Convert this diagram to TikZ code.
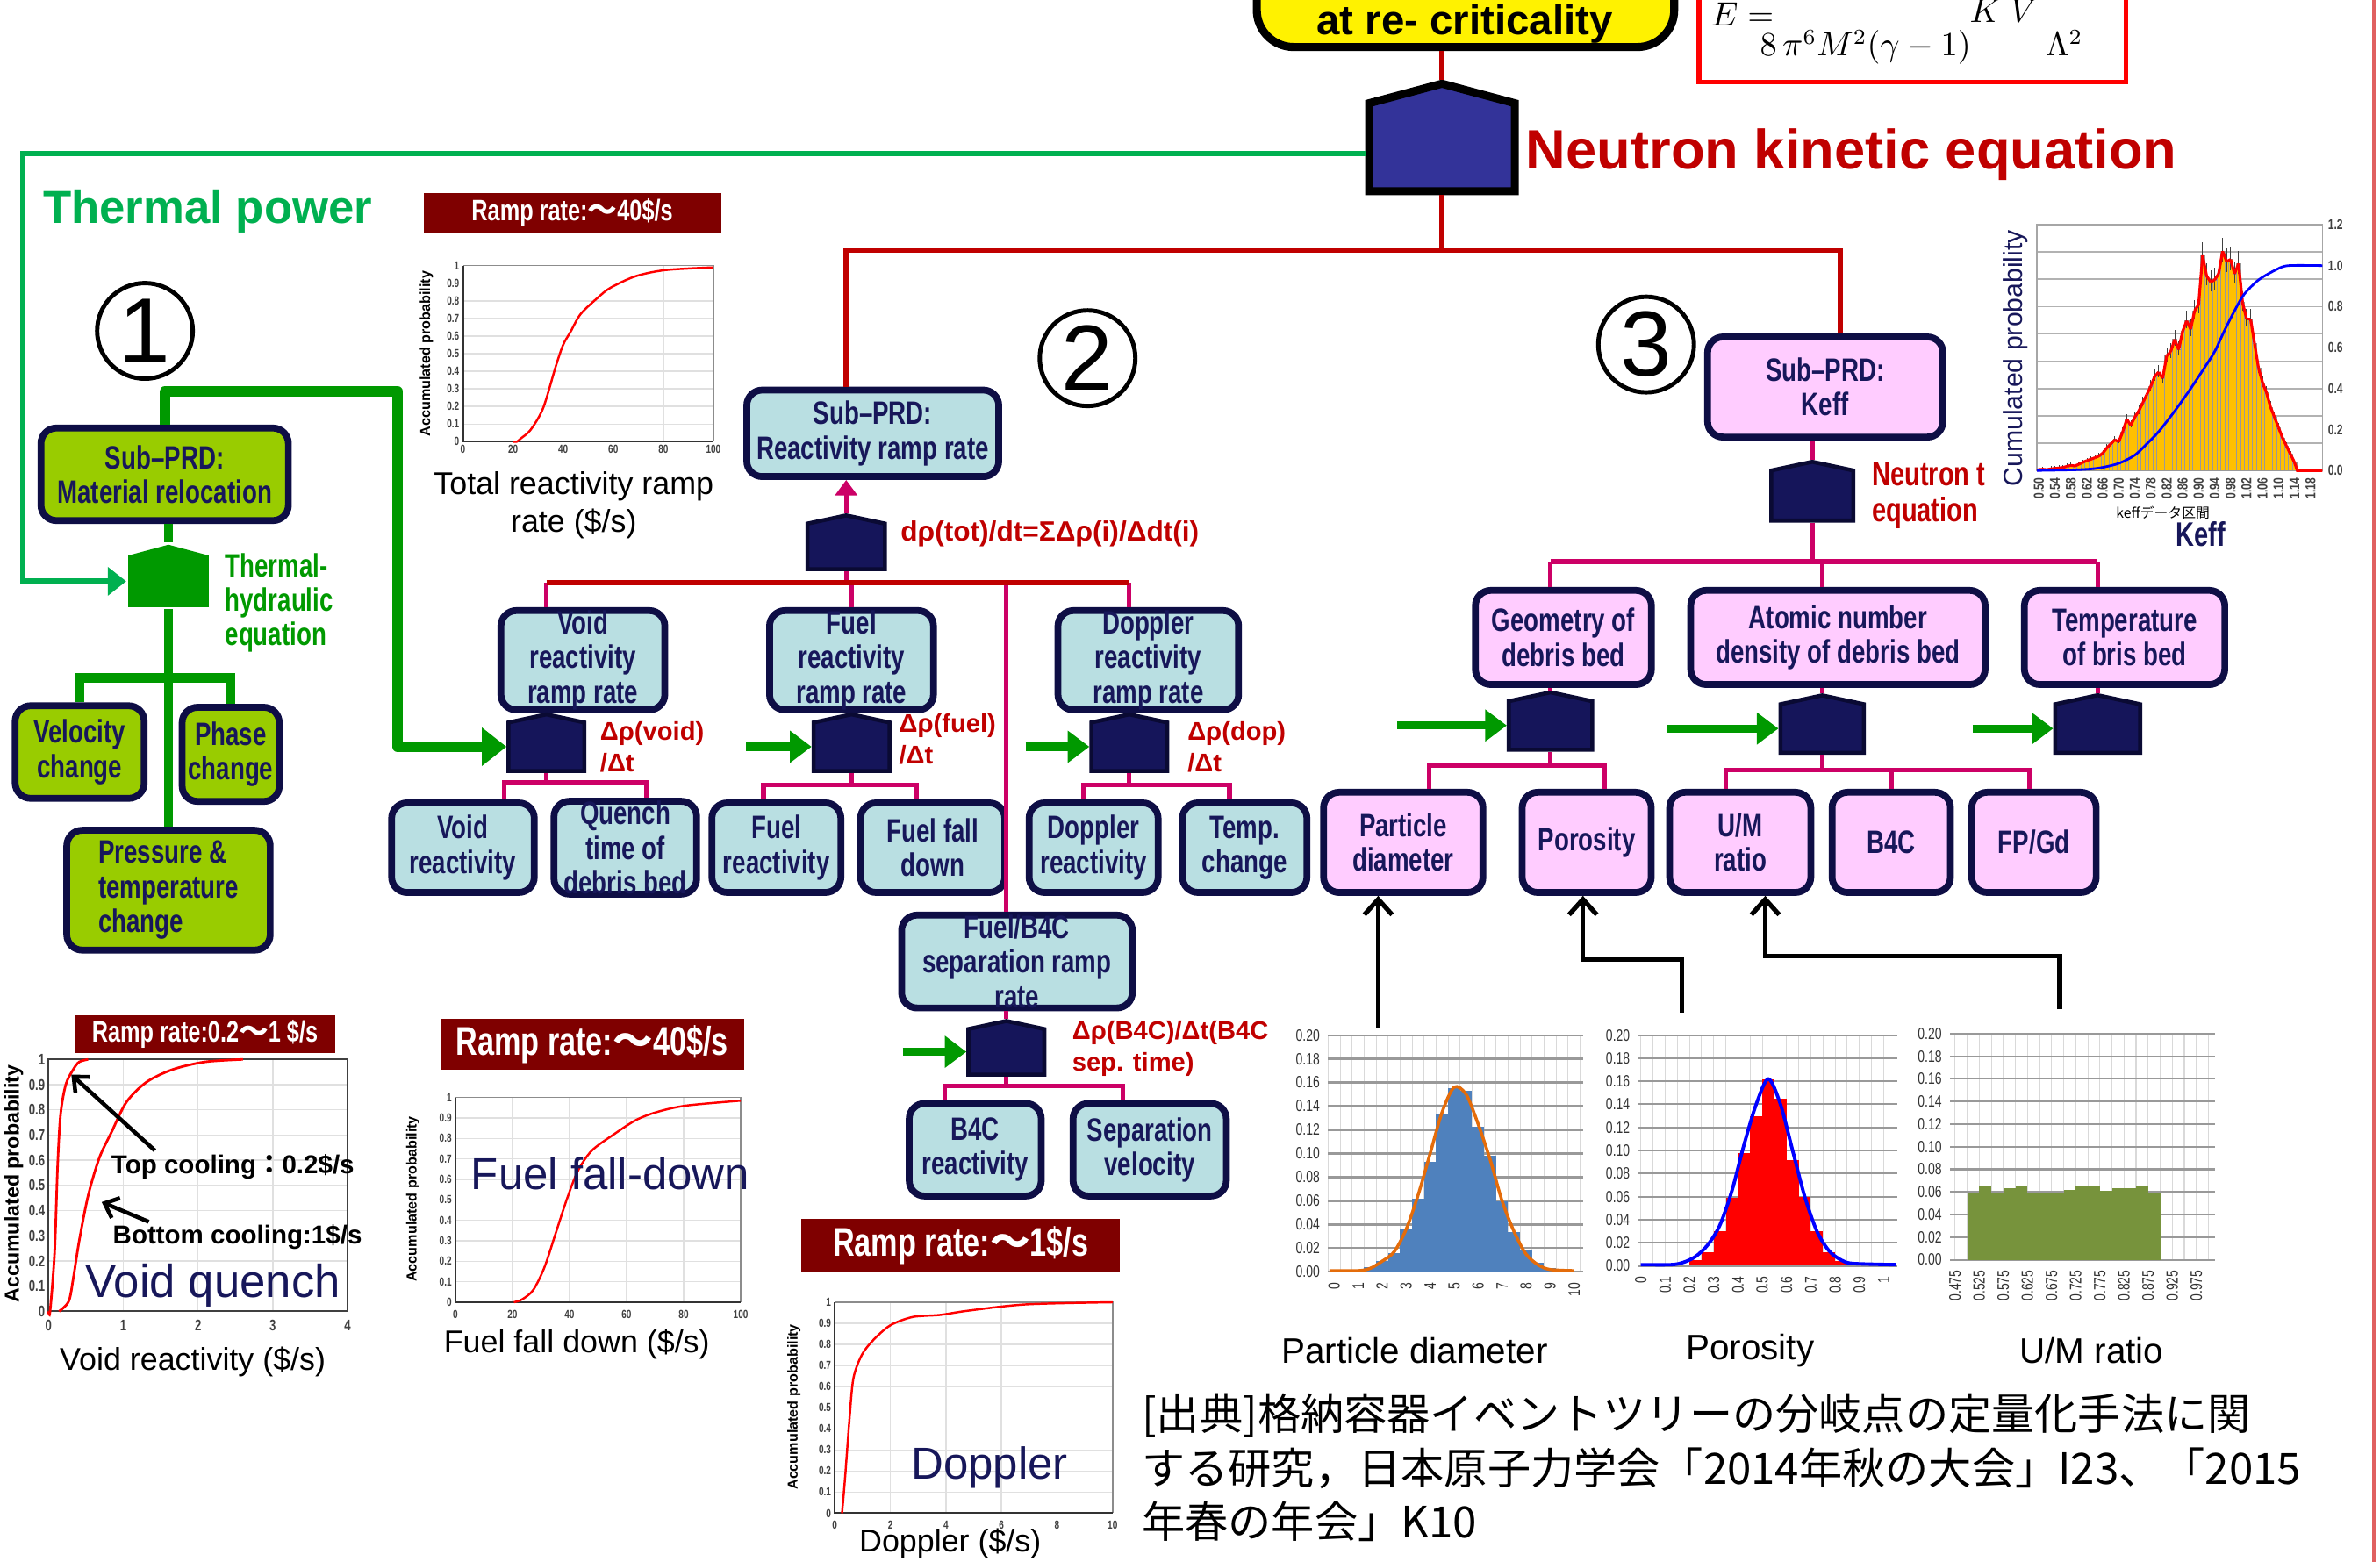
\documentclass[tikz,border=0pt]{standalone}
\usepackage[no-math]{fontspec}
\setmainfont{Liberation Sans}
\newfontfamily\condfont[FakeStretch=0.75]{Liberation Sans}
\newfontfamily\cjkfont{Noto Sans CJK JP}
\usepackage{xcolor}
\usepackage{tikz}
\usetikzlibrary{arrows.meta,positioning,shapes.symbols,calc}
\newcommand{\px}{0.17296mm}
\definecolor{etNavy}{HTML}{0E0E45}
\definecolor{etInk}{HTML}{17175A}
\definecolor{etGate}{HTML}{15155A}
\definecolor{etGateEdge}{HTML}{0A0A33}
\definecolor{etGateNK}{HTML}{333399}
\definecolor{etRed}{HTML}{C00000}
\definecolor{etPink}{HTML}{CC0066}
\definecolor{etGreen}{HTML}{009900}
\definecolor{etThermal}{HTML}{00B050}
\definecolor{etLime}{HTML}{99CC00}
\definecolor{etTeal}{HTML}{B9DFE2}
\definecolor{etLilac}{HTML}{FFCCFF}
\definecolor{etMaroon}{HTML}{7F0000}
\definecolor{etAmber}{HTML}{FFC000}
\definecolor{etSteel}{HTML}{4F81BD}
\definecolor{etOlive}{HTML}{77933C}
\definecolor{etCurve}{HTML}{E46C0A}
\definecolor{etEdge}{HTML}{E06060}

\begin{document}
\begin{tikzpicture}[
    x=0.17296mm, y=-0.17296mm,
    box/.style={rectangle, draw=etNavy, line width=2.2pt, rounded corners=5pt, inner sep=0pt, align=center, text=etInk, font=\condfont\bfseries\fontsize{10.5}{11.2}\selectfont},
    wh/.style 2 args={minimum width={(#1-4)*\px}, minimum height={(#2-4)*\px}},
    sz/.style 2 args={minimum width={#1*\px}, minimum height={#2*\px}},
    limebox/.style={box, fill=etLime},
    tealbox/.style={box, fill=etTeal},
    lilacbox/.style={box, fill=etLilac},
    gate/.style={shape=signal, signal to=north, signal pointer angle=156, fill=etGate, draw=etGateEdge, line width=1.3pt, inner sep=0pt},
    link/.style={etPink, line width=1.5pt},
    trunk/.style={etRed, line width=1.6pt},
    feed/.style={etGreen, line width=2.6pt, -{Triangle[length=7pt,width=10pt]}},
    eqlabel/.style={text=etRed, font=\bfseries\fontsize{8.3}{10.2}\selectfont, align=left, anchor=west, inner sep=0pt},
    ramp/.style={fill=etMaroon, text=white, inner sep=0pt, font=\condfont\bfseries\fontsize{9.6}{11}\selectfont},
    axtick/.style={font=\condfont\bfseries\fontsize{3.8}{4}\selectfont, inner sep=1pt, text=black!75},
    histtick/.style={font=\condfont\fontsize{5.3}{6}\selectfont, inner sep=1pt, text=black!80},
    ytitle/.style={rotate=90, font=\bfseries\fontsize{4.6}{5}\selectfont, inner sep=0pt},
    cdf/.style={red, line width=0.7pt},
    gridc/.style={black!12, line width=0.4pt},
    caption/.style={font=\fontsize{10.2}{12.3}\selectfont, align=center, inner sep=0pt},
    bigtag/.style={text=etInk, font=\fontsize{14.5}{16}\selectfont, inner sep=0pt, anchor=west},
    numcirc/.style={circle, draw, line width=1.4pt, minimum size=63*\px, inner sep=0pt, font=\fontsize{30}{30}\selectfont},
    hint/.style={black, line width=1.5pt, -{Straight Barb[length=5pt,width=9pt]}}
]
\useasboundingbox (0,0) rectangle (1568,1029);
\fill[white] (0,0) rectangle (1568,1029);
\clip (0,0) rectangle (1568,1029);

% Top event and kinetics
\node[box, draw=black, line width=2.6pt, fill=yellow, rounded corners=12pt, wh={279}{110}] (crit) at (965.5,-22) {};
\node[font=\bfseries\fontsize{13.5}{14}\selectfont, anchor=base, inner sep=0pt] (crittxt) at (965,23) {at re- criticality};
\node[draw=red, line width=1.6pt, fill=white, sz={281}{120}, inner sep=0pt] (bethe) at (1260,-6) {};
\node[anchor=base, inner sep=0pt, font=\fontsize{10.5}{12}\selectfont] (betheE) at (1148,17) {$E=$};
\node[anchor=base, inner sep=0pt, font=\fontsize{10.5}{12}\selectfont] (betheden) at (1229,37) {$8\,\pi^{6}M^{2}(\gamma-1)$};
\node[anchor=base, inner sep=0pt, font=\fontsize{10.5}{12}\selectfont] (betheKV) at (1320,15) {$K\;V$};
\node[anchor=base, inner sep=0pt, font=\fontsize{10.5}{12}\selectfont] (bethelam) at (1360,37) {$\Lambda^{2}$};
\node[gate, fill=etGateNK, draw=black, line width=2.6pt, signal pointer angle=150, wh={100}{62}] (nkgate) at (950,97) {};
\node[anchor=west, text=etRed, font=\bfseries\fontsize{18}{20}\selectfont, inner sep=0pt] (nklabel) at (1005,102) {Neutron kinetic equation};
\node[anchor=west, text=etThermal, font=\bfseries\fontsize{15}{16}\selectfont, inner sep=0pt] (tplabel) at (28,139) {Thermal power};

% (1) Material relocation
\node[numcirc] (circ1) at (95.5,218) {1};
\node[limebox, wh={167}{65}] (reloc) at (108.5,312.5) {Sub–PRD:\\Material relocation};
\node[gate, fill=etGreen, draw=none, signal pointer angle=150, sz={53}{34}] (thgate) at (111,383) {};
\node[eqlabel, text=etGreen, font=\condfont\bfseries\fontsize{10.5}{11.1}\selectfont] (thlabel) at (148,397) {Thermal-\\hydraulic\\equation};
\node[limebox, wh={89}{65}] (velo) at (52.5,495.5) {Velocity\\change};
\node[limebox, wh={68}{66}] (phase) at (152,497) {Phase\\change};
\node[limebox, wh={138}{83}, align=left] (press) at (111,586.5) {Pressure \&\\temperature\\change};

% (2) Reactivity ramp rate
\node[numcirc] (circ2) at (716.5,236) {2};
\node[tealbox, wh={170}{61}] (rrbox) at (575,285.5) {Sub–PRD:\\Reactivity ramp rate};
\node[gate, wh={55}{34}] (rrgate) at (557.5,360) {};
\node[eqlabel, font=\bfseries\fontsize{9}{10}\selectfont] (rrlabel) at (593,352) {dρ(tot)/dt=ΣΔρ(i)/Δdt(i)};
\node[tealbox, wh={112}{64}] (voidrr) at (384,435) {Void\\reactivity\\ramp rate};
\node[tealbox, wh={112}{64}] (fuelrr) at (561,435) {Fuel\\reactivity\\ramp rate};
\node[tealbox, wh={123}{64}] (doprr) at (756.5,435) {Doppler\\reactivity\\ramp rate};
\node[gate, wh={54}{36}] (voidgate) at (360,492) {};
\node[gate, wh={54}{36}] (fuelgate) at (561,492) {};
\node[gate, wh={54}{36}] (dopgate) at (744,492) {};
\node[eqlabel] (voidlbl) at (395,492) {Δρ(void)\\/Δt};
\node[eqlabel] (fuellbl) at (592,487) {Δρ(fuel)\\/Δt};
\node[eqlabel] (doplbl) at (782,492) {Δρ(dop)\\/Δt};
\node[tealbox, wh={98}{63}] (voidre) at (305,558.5) {Void\\reactivity};
\node[tealbox, wh={98}{63}, right=1.47mm of voidre] (quench) {Quench\\time of\\debris bed};
\node[tealbox, wh={89}{63}] (fuelre) at (511.5,558.5) {Fuel\\reactivity};
\node[tealbox, wh={99}{63}, right=1.47mm of fuelre] (falldown) {Fuel fall\\down};
\node[tealbox, wh={89}{63}] (dopre) at (720.5,558.5) {Doppler\\reactivity};
\node[tealbox, wh={86}{63}, right=2mm of dopre] (tempch) {Temp.\\change};
\node[tealbox, wh={156}{63}] (sepbox) at (670,633.5) {Fuel/B4C\\separation ramp\\rate};
\node[gate, wh={54}{34}] (sepgate) at (663,693) {};
\node[eqlabel] (seplbl) at (706,691) {Δρ(B4C)/Δt(B4C\\sep. time)};
\node[tealbox, wh={91}{65}] (b4cre) at (642.5,757.5) {B4C\\reactivity};
\node[tealbox, wh={105}{65}, right=2.85mm of b4cre] (sepvel) {Separation\\velocity};

% (3) Keff
\node[numcirc] (circ3) at (1084.5,227) {3};
\node[lilacbox, wh={159}{70}] (kbox) at (1202.5,255) {Sub–PRD:\\Keff};
\node[gate, wh={58}{37}] (kgate) at (1194,326.5) {};
\node[eqlabel, font=\condfont\bfseries\fontsize{11}{11.4}\selectfont] (kgatelbl) at (1233,326.5) {Neutron t\\equation};
\node[lilacbox, wh={120}{66}] (geo) at (1030,420) {Geometry of\\debris bed};
\node[lilacbox, wh={198}{66}, right=3.7mm of geo] (atom) {Atomic number\\density of debris bed};
\node[lilacbox, wh={136}{66}, right=3.7mm of atom] (tempbed) {Temperature\\of bris bed};
\node[gate, wh={59}{36}] (geogate) at (1021.5,478) {};
\node[gate, wh={59}{36}] (atomgate) at (1200.5,480) {};
\node[gate, wh={60}{36}] (tempgate) at (1382,480) {};
\node[lilacbox, wh={109}{70}] (pdia) at (924.5,555) {Particle\\diameter};
\node[lilacbox, wh={89}{70}, right=3.7mm of pdia] (poro) {Porosity};
\node[lilacbox, wh={97}{70}] (umr) at (1146.5,555) {U/M\\ratio};
\node[lilacbox, wh={82}{70}, right=1.65mm of umr] (b4c) {B4C};
\node[lilacbox, wh={86}{70}, right=1.65mm of b4c] (fpgd) {FP/Gd};

% Connectors
\coordinate (nkfork) at (950,165);
\coordinate (rbus) at (0,384);
\coordinate (kbus) at (0,370);
\coordinate (tpbend) at (15,383);
\draw[trunk] (nkgate.north |- crit.south) -- (nkgate.north);
\draw[trunk] (nkgate.south) -- (nkfork);
\draw[trunk] (nkfork) -| (rrgate.north |- rrbox.north);
\draw[trunk] (nkfork) -| ([xshift=10*\px]kbox.north);
\draw[etThermal, line width=1.8pt, -{Triangle[length=6pt,width=9pt]}] ([yshift=-4*\px]nkgate.west) -| (tpbend) -- (thgate.west);
\draw[etGreen, line width=3.4pt, line join=round, -{Triangle[length=8pt,width=12pt]}] (reloc.north) |- (262,258) |- (voidgate.west);
\draw[etGreen, line width=3pt] (thgate.north |- reloc.south) -- (thgate.north);
\draw[etGreen, line width=3pt] (thgate.south) -- (press.north);
\draw[etGreen, line width=3pt] (velo.north) -- ++(0,-16) -| (phase.north);

\draw[link, -{Triangle[length=5pt,width=7pt]}] (rrgate.north) -- (rrgate.north |- rrbox.south);
\draw[link] (rrgate.south) -- (rrgate.south |- rbus);
\foreach \g/\b in {voidgate/voidrr, fuelgate/fuelrr, dopgate/doprr, sepgate/sepbox} {
  \draw[link] (\g.north |- rbus) -- (\g.north |- \b.north);
  \draw[link] (\g.north |- \b.south) -- (\g.north);
}
\draw[trunk] (voidgate.north |- rbus) -- (dopgate.north |- rbus);
\draw[link] (voidgate.south) -- ++(0,6) coordinate (voidfork);
\draw[link] ([xshift=27*\px]voidre.north) |- (voidfork) -| ([xshift=14*\px]quench.north);
\draw[link] (fuelgate.south) -- ++(0,8) coordinate (fuelfork);
\draw[link] ([xshift=-8.5*\px]fuelre.north) |- (fuelfork) -| ([xshift=-10.5*\px]falldown.north);
\draw[link] (dopgate.south) -- ++(0,8) coordinate (dopfork);
\draw[link] ([xshift=-6.5*\px]dopre.north) |- (dopfork) -| ([xshift=-10*\px]tempch.north);
\draw[link] (sepgate.south) -- ++(0,6) coordinate (sepfork);
\draw[link] ([xshift=-20*\px]b4cre.north) |- (sepfork) -| ([xshift=-17.5*\px]sepvel.north);

\draw[link] (kgate.north |- kbox.south) -- (kgate.north);
\draw[link] (kgate.south) -- (kgate.south |- kbus);
\draw[link] (geogate.north |- kbus) -- (tempgate.north |- kbus);
\foreach \g/\b in {geogate/geo, atomgate/atom, tempgate/tempbed} {
  \draw[link] (\g.north |- kbus) -- (\g.north |- \b.north);
  \draw[link] (\g.north |- \b.south) -- (\g.north);
}
\draw[link] (geogate.south) -- ++(0,9) coordinate (geofork);
\draw[link] ([xshift=17*\px]pdia.north) |- (geofork) -| ([xshift=11.5*\px]poro.north);
\draw[link] (atomgate.south) -- ++(0,10) coordinate (atomfork);
\draw[link] ([xshift=-9.5*\px]umr.north) |- (atomfork) -| ([xshift=-3*\px]fpgd.north);
\draw[link] (b4c.north) -- (b4c.north |- atomfork);

\foreach \g/\len in {fuelgate/43, dopgate/42, sepgate/42, geogate/72, atomgate/73, tempgate/53}
  \draw[feed] ([xshift=-\len*\px]\g.west) -- (\g.west);

% Input distributions
\coordinate (pdsrc) at (908,677);
\coordinate (porsrc) at (1108,667);
\coordinate (umsrc) at (1357,665);
\draw[hint] (pdsrc) -- (pdsrc |- pdia.south);
\draw[hint] (porsrc) -- ++(0,-35) -| ([xshift=-2.5*\px]poro.south);
\draw[hint] (umsrc) -- ++(0,-35) -| ([xshift=16.5*\px]umr.south);

% Total reactivity ramp rate chart
\node[ramp, sz={196}{26}] (ramptot) at (377,140) {Ramp rate:{\cjkfont ～}40\$/s};
\begin{scope}[shift={(305,291)}, xscale=1.65, yscale=-116]
  \foreach \g in {20,40,60,80} \draw[gridc] (\g,0) -- (\g,1);
  \foreach \g in {0.1,0.2,...,0.9} \draw[gridc] (0,\g) -- (100,\g);
  \draw[black!45, line width=0.4pt] (0,1) -- (100,1) -- (100,0);
  \draw[black!80, line width=0.6pt] (0,1) -- (0,0) -- (100,0);
  \draw[cdf] plot[smooth] coordinates {(20,0) (21.5,0) (23,0.017) (27,0.067) (32,0.19) (37,0.425) (40,0.55) (43,0.625) (47,0.725) (54,0.82) (59,0.875) (69,0.94) (81,0.975) (100,0.99)};
  \foreach \v in {0,0.1,0.2,0.3,0.4,0.5,0.6,0.7,0.8,0.9,1} \node[axtick, anchor=east] at (0,\v) {\v};
  \foreach \v in {0,20,40,60,80,100} \node[axtick, anchor=north] at (\v,0) {\v};
\end{scope}
\node[ytitle] (tottitle) at (281,233) {Accumulated probability};
\node[caption] (totcap) at (378,333) {Total reactivity ramp\\rate (\$/s)};

% Void quench chart
\node[ramp, sz={172}{25}] (rampvoid) at (135,681.5) {Ramp rate:0.2{\cjkfont ～}1 \$/s};
\begin{scope}[shift={(32,864)}, xscale=49.25, yscale=-166]
  \foreach \g in {1,2,3} \draw[gridc] (\g,0) -- (\g,1);
  \foreach \g in {0.1,0.2,...,0.9} \draw[gridc] (0,\g) -- (4,\g);
  \draw[black!75, line width=0.6pt] (0,0) rectangle (4,1);
  \draw[cdf, line width=0.8pt] plot[smooth] coordinates {(0,0) (0.02,0) (0.08,0.23) (0.12,0.57) (0.16,0.78) (0.23,0.9) (0.33,0.96) (0.41,0.99) (0.53,1)};
  \draw[cdf, line width=0.8pt] plot[smooth] coordinates {(0.14,0) (0.27,0.04) (0.33,0.13) (0.41,0.28) (0.53,0.46) (0.68,0.61) (0.84,0.71) (1.04,0.83) (1.31,0.91) (1.66,0.96) (2.09,0.99) (2.6,1)};
  \foreach \v in {0,0.1,0.2,0.3,0.4,0.5,0.6,0.7,0.8,0.9,1} \node[axtick, font=\condfont\bfseries\fontsize{5}{5}\selectfont, anchor=east] at (0,\v) {\v};
  \foreach \v in {0,1,2,3,4} \node[axtick, font=\condfont\bfseries\fontsize{5}{5}\selectfont, anchor=north] at (\v,-0.02) {\v};
\end{scope}
\node[ytitle, font=\bfseries\fontsize{6.6}{7}\selectfont] (voidtitle) at (9,780) {Accumulated probability};
\node[anchor=west, inner sep=0pt, font=\bfseries\fontsize{8.4}{9}\selectfont] (topnote) at (73,769) {Top cooling{\cjkfont ：}0.2\$/s};
\node[anchor=west, inner sep=0pt, font=\bfseries\fontsize{8.4}{9}\selectfont] (botnote) at (74,815) {Bottom cooling:1\$/s};
\coordinate (topfrom) at (102,758);
\coordinate (topcurve) at (47,708);
\coordinate (botfrom) at (98,805);
\coordinate (botcurve) at (67,792);
\draw[black, line width=1.3pt, -{Straight Barb[length=4pt,width=7pt]}] (topfrom) -- (topcurve);
\draw[black, line width=1.3pt, -{Straight Barb[length=4pt,width=7pt]}] (botfrom) -- (botcurve);
\node[bigtag, font=\fontsize{15}{16}\selectfont] (voidtag) at (56,847) {Void quench};
\node[caption] (voidcap) at (127,897) {Void reactivity (\$/s)};

% Fuel fall-down chart
\node[ramp, sz={200}{33}, font=\condfont\bfseries\fontsize{13}{14}\selectfont] (rampfuel) at (390,688) {Ramp rate:{\cjkfont ～}40\$/s};
\begin{scope}[shift={(300,858)}, xscale=1.88, yscale=-135]
  \foreach \g in {20,40,60,80} \draw[gridc] (\g,0) -- (\g,1);
  \foreach \g in {0.1,0.2,...,0.9} \draw[gridc] (0,\g) -- (100,\g);
  \draw[black!45, line width=0.4pt] (0,1) -- (100,1) -- (100,0);
  \draw[black!80, line width=0.6pt] (0,1) -- (0,0) -- (100,0);
  \draw[cdf] plot[smooth] coordinates {(20.5,0) (23.4,0.014) (27.3,0.06) (31.2,0.17) (35,0.33) (39,0.5) (42.9,0.64) (47.8,0.74) (55.6,0.82) (63.4,0.89) (71,0.93) (81,0.96) (100,0.984)};
  \foreach \v in {0,0.1,0.2,0.3,0.4,0.5,0.6,0.7,0.8,0.9,1} \node[axtick, anchor=east] at (0,\v) {\v};
  \foreach \v in {0,20,40,60,80,100} \node[axtick, anchor=north] at (\v,-0.02) {\v};
\end{scope}
\node[ytitle] (fueltitle) at (272,790) {Accumulated probability};
\node[bigtag] (fueltag) at (310,773) {Fuel fall-down};
\node[caption] (fuelcap) at (380,886) {Fuel fall down (\$/s)};

% Doppler chart
\node[ramp, sz={210}{35}, font=\condfont\bfseries\fontsize{13}{14}\selectfont] (rampdop) at (633,820.5) {Ramp rate:{\cjkfont ～}1\$/s};
\begin{scope}[shift={(550,997)}, xscale=18.3, yscale=-139]
  \foreach \g in {2,4,6,8} \draw[gridc] (\g,0) -- (\g,1);
  \foreach \g in {0.1,0.2,...,0.9} \draw[gridc] (0,\g) -- (10,\g);
  \draw[black!45, line width=0.4pt] (0,1) -- (10,1) -- (10,0);
  \draw[black!80, line width=0.6pt] (0,1) -- (0,0) -- (10,0);
  \draw[cdf] plot[smooth, tension=0.5] coordinates {(0.26,0) (0.37,0.17) (0.53,0.45) (0.67,0.64) (0.97,0.75) (1.38,0.82) (1.99,0.89) (2.8,0.93) (3.8,0.94) (4.8,0.96) (6.9,0.99) (10,1)};
  \foreach \v in {0,0.1,0.2,0.3,0.4,0.5,0.6,0.7,0.8,0.9,1} \node[axtick, anchor=east] at (0,\v) {\v};
  \foreach \v in {0,2,4,6,8,10} \node[axtick, anchor=north] at (\v,-0.02) {\v};
\end{scope}
\node[ytitle] (doptitle) at (523,927) {Accumulated probability};
\node[bigtag] (doptag) at (600,967) {Doppler};
\node[caption] (dopcap) at (626,1017) {Doppler (\$/s)};

% Keff distribution
\begin{scope}[shift={(1211.8,310)}, xscale=263, yscale=-135]
  \foreach \g in {1,...,8} \draw[black!30, line width=0.5pt] (0.495,\g*0.1333) -- (1.21,\g*0.1333);
  \draw[black!35, line width=0.4pt] (0.495,0) rectangle (1.21,1.2);
  \foreach \k/\v [remember=\k as \pk (initially 0.495), remember=\v as \pv (initially 0)] in {0.50/0.005,0.51/0.006,0.52/0.004,0.53/0.008,0.54/0.010,0.55/0.012,0.56/0.015,0.57/0.020,0.58/0.025,0.59/0.022,0.60/0.030,0.61/0.040,0.62/0.048,0.63/0.055,0.64/0.062,0.65/0.070,0.66/0.085,0.67/0.110,0.68/0.130,0.69/0.150,0.70/0.140,0.71/0.190,0.72/0.250,0.73/0.220,0.74/0.260,0.75/0.290,0.76/0.330,0.77/0.370,0.78/0.410,0.79/0.460,0.80/0.480,0.81/0.450,0.82/0.560,0.83/0.580,0.84/0.640,0.85/0.590,0.86/0.680,0.87/0.730,0.88/0.690,0.89/0.780,0.90/0.810,0.91/1.050,0.92/0.950,0.93/0.920,0.94/0.930,0.95/0.960,0.96/1.070,0.97/1.020,0.98/1.030,0.99/0.960,1.00/1.010,1.01/0.820,1.02/0.740,1.03/0.740,1.04/0.620,1.05/0.500,1.06/0.430,1.07/0.380,1.08/0.310,1.09/0.260,1.10/0.210,1.11/0.160,1.12/0.120,1.13/0.080,1.14/0.040} {
    \filldraw[fill=etAmber, draw=black!40, line width=0.15pt] (\k-0.005,0) rectangle (\k+0.005,\v);
    \draw[black!75, line width=0.25pt] (\k,\v*0.95) -- (\k,\v*1.05+0.012);
    \draw[red, line width=0.9pt] (\pk,\pv) -- (\k,\v);
  }
  \draw[red, line width=0.9pt] (1.14,0.04) -- (1.147,0) -- (1.21,0);
  \draw[blue, line width=0.8pt] plot[smooth] coordinates {(0.495,0) (0.60,0.004) (0.65,0.012) (0.70,0.035) (0.74,0.075) (0.77,0.13) (0.80,0.19) (0.84,0.29) (0.88,0.40) (0.914,0.50) (0.94,0.58) (0.964,0.68) (0.99,0.78) (1.014,0.86) (1.05,0.93) (1.094,0.98) (1.125,1.0) (1.21,1.0)};
  \foreach \v/\t in {0/0.0, 0.2/0.2, 0.4/0.4, 0.6/0.6, 0.8/0.8, 1.0/1.0, 1.2/1.2} \node[axtick, font=\condfont\bfseries\fontsize{4.6}{5}\selectfont, anchor=west] at (1.215,\v) {\t};
  \foreach \k in {0.50,0.54,0.58,0.62,0.66,0.70,0.74,0.78,0.82,0.86,0.90,0.94,0.98,1.02,1.06,1.10,1.14,1.18} \node[axtick, font=\condfont\bfseries\fontsize{4.6}{5}\selectfont, rotate=90, anchor=east] at (\k,-0.02) {\k};
\end{scope}
\node[rotate=90, text=etInk, font=\fontsize{8.6}{9}\selectfont, inner sep=0pt] (keffytitle) at (1328,236) {Cumulated probability};
\node[font=\cjkfont\fontsize{4.5}{5}\selectfont, inner sep=0pt] (keffxtitle) at (1425,338) {keffデータ区間};
\node[text=etInk, font=\condfont\bfseries\fontsize{11}{12}\selectfont, inner sep=0pt] (kefftag) at (1450,352) {Keff};

% Particle diameter histogram
\begin{scope}[shift={(879,838)}, xscale=15.8, yscale=-780]
  \foreach \g in {-0.25,0.25,...,10.3} \draw[black!15, line width=0.3pt] (\g,0) -- (\g,0.2);
  \foreach \g in {0,0.02,...,0.21} \draw[black!40, line width=0.6pt] (-0.25,\g) -- (10.38,\g);
  \foreach \c/\v in {1.5/0.004,2.0/0.009,2.5/0.016,3.0/0.036,3.5/0.062,4.0/0.093,4.5/0.133,5.0/0.155,5.5/0.153,6.0/0.123,6.5/0.098,7.0/0.060,7.5/0.034,8.0/0.019,8.5/0.008,9.0/0.003}
    \fill[etSteel] (\c-0.25,0) rectangle (\c+0.25,\v);
  \draw[etCurve, line width=1pt] plot[smooth] coordinates {(-0.2,0.001) (1,0.001) (1.5,0.003) (2,0.009) (2.5,0.017) (3,0.036) (3.5,0.065) (4,0.1) (4.5,0.135) (5,0.156) (5.5,0.15) (6,0.125) (6.5,0.095) (7,0.06) (7.5,0.034) (8,0.015) (8.5,0.006) (9,0.002) (10,0.001)};
  \foreach \v in {0.00,0.02,0.04,0.06,0.08,0.10,0.12,0.14,0.16,0.18,0.20} \node[histtick, anchor=east] at (-0.45,\v) {\v};
  \foreach \k in {0,...,10} \node[histtick, rotate=90, anchor=east] at (\k,-0.006) {\k};
\end{scope}
\node[caption, font=\fontsize{11.5}{13}\selectfont] (pdcap) at (932,890) {Particle diameter};

% Porosity histogram
\begin{scope}[shift={(1081,834)}, xscale=160, yscale=-760]
  \foreach \g in {0,0.05,...,1.06} \draw[black!15, line width=0.3pt] (\g,0) -- (\g,0.2);
  \foreach \g in {0,0.02,...,0.21} \draw[black!40, line width=0.6pt] (-0.0125,\g) -- (1.056,\g);
  \foreach \c/\v in {0.20/0.005,0.25/0.012,0.30/0.030,0.35/0.059,0.40/0.098,0.45/0.130,0.50/0.162,0.55/0.145,0.60/0.092,0.65/0.060,0.70/0.030,0.75/0.012,0.80/0.004}
    \fill[red] (\c,0) rectangle (\c+0.05,\v);
  \draw[blue, line width=1.1pt] plot[smooth] coordinates {(0,0.001) (0.125,0.001) (0.175,0.003) (0.225,0.008) (0.275,0.018) (0.325,0.035) (0.375,0.065) (0.425,0.105) (0.475,0.14) (0.525,0.162) (0.575,0.14) (0.625,0.1) (0.675,0.06) (0.725,0.03) (0.775,0.013) (0.825,0.005) (0.875,0.002) (1.05,0.001)};
  \foreach \v in {0.00,0.02,0.04,0.06,0.08,0.10,0.12,0.14,0.16,0.18,0.20} \node[histtick, anchor=east] at (-0.03,\v) {\v};
  \foreach \k in {0,0.1,0.2,0.3,0.4,0.5,0.6,0.7,0.8,0.9,1} \node[histtick, rotate=90, anchor=east] at (\k,-0.006) {\k};
\end{scope}
\node[caption, font=\fontsize{11.5}{13}\selectfont] (porcap) at (1153,890) {Porosity};

% U/M ratio histogram
\begin{scope}[shift={(1137,830)}, xscale=318, yscale=-745]
  \foreach \g in {0.475,0.5,...,1.01} \draw[black!15, line width=0.3pt] (\g,0) -- (\g,0.2);
  \foreach \g in {0,0.02,...,0.21} \draw[black!40, line width=0.6pt] (0.465,\g) -- (1.0126,\g);
  \foreach \c/\v in {0.500/0.059,0.525/0.066,0.550/0.059,0.575/0.063,0.600/0.066,0.625/0.059,0.650/0.059,0.675/0.059,0.700/0.062,0.725/0.065,0.750/0.066,0.775/0.061,0.800/0.063,0.825/0.063,0.850/0.066,0.875/0.059}
    \fill[etOlive] (\c,0) rectangle (\c+0.025,\v);
  \foreach \v in {0.00,0.02,0.04,0.06,0.08,0.10,0.12,0.14,0.16,0.18,0.20} \node[histtick, anchor=east] at (0.455,\v) {\v};
  \foreach \k in {0.475,0.525,0.575,0.625,0.675,0.725,0.775,0.825,0.875,0.925,0.975} \node[histtick, rotate=90, anchor=east] at (\k,-0.006) {\k};
\end{scope}
\node[caption, font=\fontsize{11.5}{13}\selectfont] (umcap) at (1378,890) {U/M ratio};

% Source
\node[anchor=north west, align=left, inner sep=0pt, font=\cjkfont\fontsize{14}{17.5}\selectfont] (source) at (752,918) {[出典]格納容器イベントツリーの分岐点の定量化手法に関\\する研究，日本原子力学会「2014年秋の大会」I23、「2015\\年春の年会」K10};

\draw[etEdge, line width=1.2pt] (1564,0) -- (1564,1029);
\end{tikzpicture}
\end{document}
